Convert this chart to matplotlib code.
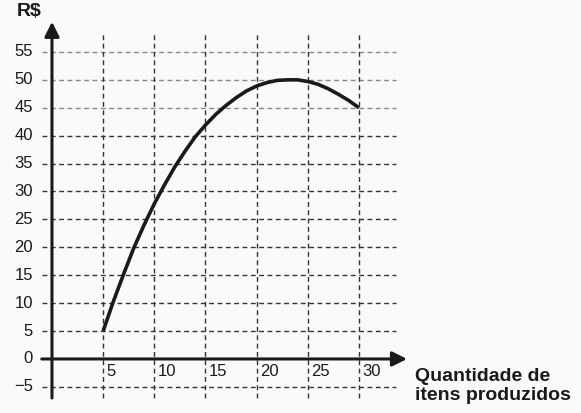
import matplotlib.pyplot as plt

# curve
xs = [5, 6, 7, 8, 9, 10, 11, 12, 13, 14, 15, 16, 17, 18, 19, 20,
      21, 22, 23, 24, 25, 26, 27, 28, 29, 30]
ys = [5.0, 10.3, 15.2, 19.9, 24.0, 27.8, 31.2, 34.4, 37.2, 39.8, 41.9, 43.8,
      45.4, 46.8, 48.0, 48.9, 49.5, 49.9, 50.0, 50.0, 49.7, 49.2, 48.4, 47.4,
      46.3, 45.0]

xticks = [5, 10, 15, 20, 25, 30]
yticks = [-5, 0, 5, 10, 15, 20, 25, 30, 35, 40, 45, 50, 55]
ylabels = ["\u22125", "0", "5", "10", "15", "20", "25", "30", "35", "40", "45", "50", "55"]

plt.rcParams["font.family"] = ["Liberation Sans", "DejaVu Sans"]
ink = "#1a1a1a"

fig = plt.figure(figsize=(5.81, 4.13), dpi=100, facecolor="#fafafa")
ax = fig.add_axes([0, 0, 1, 1])
ax.set_facecolor("#fafafa")
ax.set_xlim(-5.08, 51.7)
ax.set_ylim(-9.68, 64.3)
ax.axis("off")

# dashed grid
for v in yticks:
    if v == 0:
        continue
    col = "#888888" if v >= 45 else "#333333"
    ax.plot([-1, 33.6], [v, v], color=col, lw=1.0, dashes=(3.5, 2.5), zorder=1)
for v in xticks:
    ax.plot([v, v], [-7, 58.4], color="#333333", lw=1.0, dashes=(3.5, 2.5), zorder=1)

# axes with arrows
ax.annotate("", xy=(0, 60.4), xytext=(0, -7),
            arrowprops=dict(arrowstyle="-|>", lw=2.2, color=ink,
                            mutation_scale=22, shrinkA=0, shrinkB=0), zorder=3)
ax.annotate("", xy=(34.7, 0), xytext=(-1, 0),
            arrowprops=dict(arrowstyle="-|>", lw=2.2, color=ink,
                            mutation_scale=22, shrinkA=0, shrinkB=0), zorder=3)

# the curve
ax.plot(xs, ys, color=ink, lw=2.6, solid_capstyle="butt", zorder=4)

# tick labels
for v, lab in zip(yticks, ylabels):
    ax.text(-1.85, v, lab, ha="right", va="center", fontsize=12, color=ink)
for v in xticks:
    ax.text(v + 0.35, -2.2, str(v), ha="left", va="center", fontsize=12, color=ink)

# axis titles
ax.text(-3.4, 62.2, "R$", ha="left", va="center", fontsize=14,
        fontweight="bold", color=ink)
ax.text(35.5, -3.94, "Quantidade de", ha="left", va="baseline", fontsize=14,
        fontweight="bold", color=ink)
ax.text(35.5, -7.35, "itens produzidos", ha="left", va="baseline", fontsize=14,
        fontweight="bold", color=ink)

fig.savefig("out.png", dpi=100, facecolor=fig.get_facecolor())
